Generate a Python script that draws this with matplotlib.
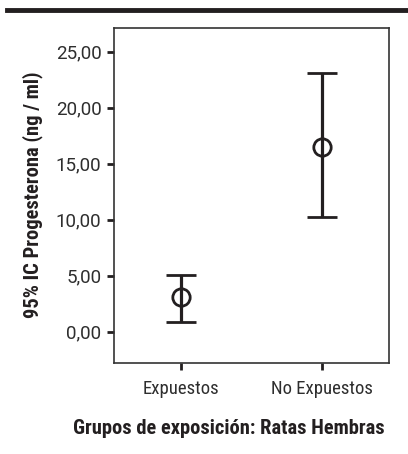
import matplotlib
matplotlib.use('Agg')
import matplotlib.pyplot as plt
from matplotlib.lines import Line2D

# values
groups = ['Expuestos', 'No Expuestos']
means = [3.1, 16.5]
lower = [0.85, 10.2]
upper = [5.1, 23.1]
yticks = [0, 5, 10, 15, 20, 25]
ytick_labels = ['0,00', '5,00', '10,00', '15,00', '20,00', '25,00']

plt.rcParams['font.family'] = ['Roboto Condensed', 'DejaVu Sans']
ink = '#231f20'

fig = plt.figure(figsize=(4.08, 4.54), dpi=100)
ax = fig.add_axes([0.2794, 0.2004, 0.674, 0.7379])

x = list(range(len(groups)))
err_lo = [m - l for m, l in zip(means, lower)]
err_hi = [u - m for m, u in zip(means, upper)]
ax.errorbar(x, means, yerr=[err_lo, err_hi], fmt='o', color=ink,
            markerfacecolor='none', markeredgecolor=ink, markersize=12.5,
            markeredgewidth=2, elinewidth=2.3, capsize=10.5, capthick=2.3)

ax.set_xlim(-0.47, 1.47)
ax.set_ylim(-2.8, 27.1)
ax.set_xticks(x)
ax.set_xticklabels(groups)
ax.set_yticks(yticks)
ax.set_yticklabels(ytick_labels)
ax.tick_params(direction='out', length=5, width=2, color=ink,
               labelcolor='#2e2e2e', pad=4)
ax.tick_params(axis='x', pad=7)
for lab in ax.get_xticklabels():
    lab.set_fontweight('normal')
    lab.set_fontsize(13.5)
for lab in ax.get_yticklabels():
    lab.set_family(['Roboto', 'DejaVu Sans'])
    lab.set_fontweight('normal')
    lab.set_fontsize(13.5)
for s in ax.spines.values():
    s.set_color('#333333')
    s.set_linewidth(1.2)

fig.text(33 / 408, 1 - 195 / 454, '95% IC Progesterona (ng / ml)',
         rotation=90, ha='center', va='center', fontsize=14.8,
         fontweight='bold', color=ink)
fig.text(229 / 408, 1 - 428 / 454, 'Grupos de exposición: Ratas Hembras',
         ha='center', va='center', fontsize=14.8, fontweight='bold', color=ink)

# thick rule at the top
fig.add_artist(Line2D([7 / 408, 1], [1 - 9.5 / 454, 1 - 9.5 / 454],
                      transform=fig.transFigure, color=ink, linewidth=3.5))

fig.savefig('out.png', dpi=100)
